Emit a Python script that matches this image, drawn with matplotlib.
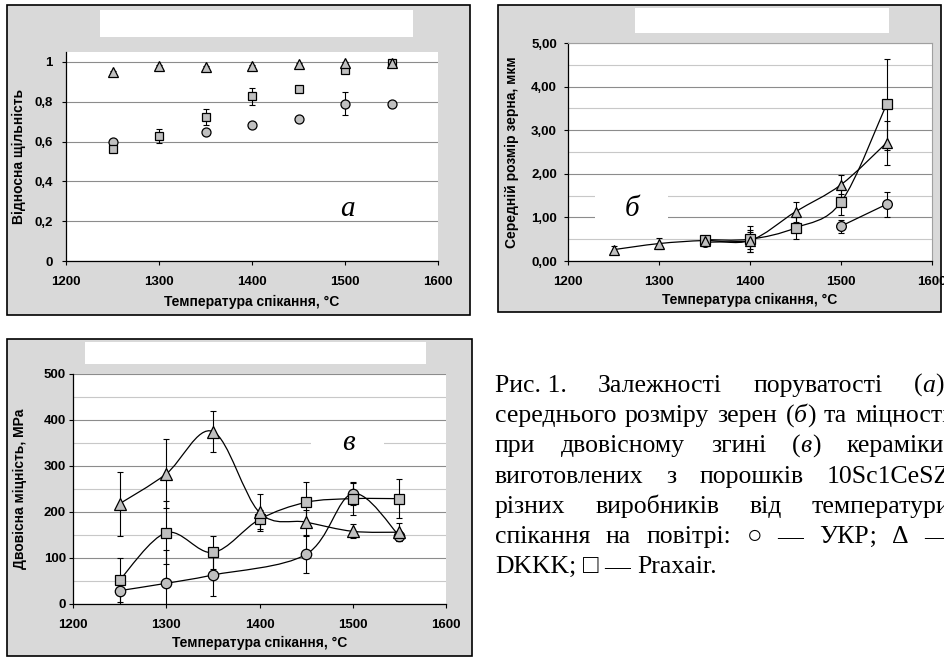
import numpy as np
import matplotlib
matplotlib.use('Agg')
import matplotlib.pyplot as plt
from matplotlib.patches import Rectangle, PathPatch
from matplotlib.path import Path

W, H = 944, 657
plt.rcParams['font.family'] = ['Liberation Sans', 'DejaVu Sans']
SERIF = ['Liberation Serif', 'DejaVu Serif']
nan = np.nan

# --- data -------------------------------------------------------------
temps = [1250, 1300, 1350, 1400, 1450, 1500, 1550]

# (a) relative density
dens_ukr = [0.597, nan, 0.648, 0.682, 0.714, 0.789, 0.789]
dens_ukr_err = [0.01, nan, 0.01, 0.01, 0.01, 0.058, 0.01]
dens_dkkk = [0.950, 0.980, 0.975, 0.978, 0.992, 0.997, 0.995]
dens_dkkk_err = [0.005, 0.005, 0.005, 0.005, 0.005, 0.005, 0.005]
dens_prx = [0.563, 0.630, 0.725, 0.828, 0.865, 0.958, 0.993]
dens_prx_err = [0.015, 0.035, 0.04, 0.042, 0.01, 0.01, 0.01]

# (б) mean grain size, um
grain_ukr = [nan, nan, 0.43, 0.45, nan, 0.80, 1.30]
grain_ukr_err = [nan, nan, 0.05, 0.25, nan, 0.15, 0.29]
grain_dkkk = [0.26, 0.40, 0.47, 0.47, 1.13, 1.75, 2.71]
grain_dkkk_err = [0.08, 0.13, 0.05, 0.2, 0.23, 0.22, 0.5]
grain_prx = [nan, nan, 0.49, 0.50, 0.76, 1.35, 3.59]
grain_prx_err = [nan, nan, 0.05, 0.3, 0.25, 0.3, 1.05]

# (в) biaxial strength, MPa
str_ukr = [29, 45, 63, nan, 108, 240, 148]
str_ukr_err = [30, 72, 45, nan, 40, 25, 10]
str_dkkk = [218, 283, 375, 199, 178, 158, 156]
str_dkkk_err = [70, 75, 45, 40, 27, 15, 20]
str_prx = [52, 155, 112, 184, 221, 229, 229]
str_prx_err = [48, 68, 35, 20, 45, 35, 42]

xticks = [1200, 1300, 1400, 1500, 1600]
a_yticks = [0, 0.2, 0.4, 0.6, 0.8, 1.0]
a_yticklabels = ['0', '0,2', '0,4', '0,6', '0,8', '1']
b_yticks = [0, 1, 2, 3, 4, 5]
b_yticklabels = ['0,00', '1,00', '2,00', '3,00', '4,00', '5,00']
c_yticks = [0, 100, 200, 300, 400, 500]
c_yticklabels = ['0', '100', '200', '300', '400', '500']

xlabel = 'Температура спікання, °С'
caption = [
    'Рис.\u00a01. Залежності поруватості (*а*),',
    'середнього розміру зерен (*б*) та міцності',
    'при двовісному згині (*в*) кераміки,',
    'виготовлених з порошків 10Sc1CeSZ',
    'різних виробників від температури',
    'спікання на повітрі: ○ — УКР; Δ —',
    'DKKK; □ — Praxair.',
]

GREY = '#d9d9d9'
MFC = '#c0c0c0'


def px_rect(fig, l, t, r, b, **kw):
    fig.add_artist(Rectangle((l / W, 1 - b / H), (r - l) / W, (b - t) / H,
                             transform=fig.transFigure, **kw))


def px_axes(fig, l, t, r, b):
    return fig.add_axes([l / W, 1 - b / H, (r - l) / W, (b - t) / H])


def smooth_line(ax, x, y):
    # Excel-like smoothed line (Catmull-Rom as cubic Bezier)
    pts = np.column_stack([x, y])
    n = len(pts)
    if n < 2:
        return
    verts = [pts[0]]
    codes = [Path.MOVETO]
    for i in range(n - 1):
        p0 = pts[i - 1] if i > 0 else pts[i]
        p1, p2 = pts[i], pts[i + 1]
        p3 = pts[i + 2] if i + 2 < n else pts[i + 1]
        verts += [p1 + (p2 - p0) / 6, p2 - (p3 - p1) / 6, p2]
        codes += [Path.CURVE4] * 3
    ax.add_patch(PathPatch(Path(verts, codes), fill=False, ec='black',
                           lw=0.9, zorder=2))


def series(ax, y, err, marker, ms, line=None):
    x = np.array(temps, float)
    y = np.array(y, float)
    err = np.array(err, float)
    ok = ~np.isnan(y)
    if line == 'connect':
        smooth_line(ax, x[ok], y[ok])
    elif line == 'split':
        start = None
        for i in range(len(y) + 1):
            if i < len(y) and ok[i]:
                if start is None:
                    start = i
            elif start is not None:
                smooth_line(ax, x[start:i], y[start:i])
                start = None
    ax.errorbar(x[ok], y[ok], yerr=err[ok], fmt='none', ecolor='black',
                elinewidth=0.8, capsize=2.5, capthick=0.8, zorder=3)
    ax.plot(x[ok], y[ok], ls='none', marker=marker, ms=ms, mfc=MFC,
            mec='black', mew=0.9, zorder=4)


def style(ax, box, yticks, ylabels, ymax, minor, ylabel, ylab_x, xlab_y,
          ypad, right_spine=False):
    l, t, r, b = box
    ax.set_xlim(1200, 1600)
    ax.set_ylim(0, ymax)
    ax.set_xticks(xticks)
    ax.set_xticklabels([str(v) for v in xticks])
    ax.set_yticks(yticks)
    ax.set_yticklabels(ylabels)
    if minor is not None:
        ax.set_yticks(minor, minor=True)
        ax.grid(True, which='minor', axis='y', color='#c8c8c8', lw=0.8)
    ax.grid(True, which='major', axis='y', color='#8c8c8c', lw=0.8)
    ax.set_axisbelow(True)
    ax.tick_params(which='minor', left=False)
    ax.tick_params(axis='both', which='major', direction='out', length=3,
                   width=0.8, labelsize=9.5)
    ax.tick_params(axis='x', pad=8)
    ax.tick_params(axis='y', pad=ypad)
    for lab in ax.get_xticklabels() + ax.get_yticklabels():
        lab.set_fontweight('bold')
    for s in ('top', 'right'):
        ax.spines[s].set_visible(right_spine)
        ax.spines[s].set_color('#a0a0a0')
        ax.spines[s].set_linewidth(0.8)
    for s in ('left', 'bottom'):
        ax.spines[s].set_color('black')
        ax.spines[s].set_linewidth(0.9)
    ax.set_ylabel(ylabel, fontsize=10, fontweight='bold')
    ax.yaxis.set_label_coords((ylab_x - l) / (r - l), 0.5)
    ax.yaxis.label.set_va('center')
    ax.set_xlabel(xlabel, fontsize=10, fontweight='bold')
    ax.xaxis.set_label_coords(0.5, -(xlab_y - b) / (b - t))
    ax.xaxis.label.set_va('center')


def panel_label(ax, box, text, cx, cy, wbox=None):
    # italic panel letter, optionally on a white patch hiding grid lines
    l, t, r, b = box
    if wbox is not None:
        x0, y0, x1, y1 = wbox
        ax.add_patch(Rectangle(((x0 - l) / (r - l), (b - y1) / (b - t)),
                               (x1 - x0) / (r - l), (y1 - y0) / (b - t),
                               transform=ax.transAxes, fc='white', ec='none',
                               zorder=1))
    ax.text((cx - l) / (r - l), (b - cy) / (b - t), text,
            transform=ax.transAxes, family=SERIF, style='italic',
            fontsize=21, ha='center', va='center', zorder=5)


def caption_line(fig, text, y_px, left, right, justify, size):
    r = fig.canvas.get_renderer()
    words = []
    for w in text.split(' '):
        pcs = []
        for k, s in enumerate(w.split('*')):
            if not s:
                continue
            t = fig.text(0, 1 - y_px / H, s, fontsize=size, family=SERIF,
                         style='italic' if k % 2 else 'normal',
                         va='baseline', ha='left')
            pcs.append((t, t.get_window_extent(r).width))
        words.append(pcs)
    total = sum(wd for pcs in words for _, wd in pcs)
    if justify and len(words) > 1:
        gap = (right - left - total) / (len(words) - 1)
    else:
        gap = size * 0.25 * 100 / 72
    x = left
    for pcs in words:
        for t, wd in pcs:
            t.set_x(x / W)
            x += wd
        x += gap


fig = plt.figure(figsize=(W / 100, H / 100), dpi=100)
fig.patch.set_facecolor('white')

# panel backgrounds and empty legend boxes
px_rect(fig, 7, 5, 470, 315, fc=GREY, ec='black', lw=1.2, zorder=-2)
px_rect(fig, 498, 5, 941, 312, fc=GREY, ec='black', lw=1.2, zorder=-2)
px_rect(fig, 7, 339, 472, 656, fc=GREY, ec='black', lw=1.2, zorder=-2)
px_rect(fig, 100, 10, 413, 37, fc='white', ec='none', zorder=-1)
px_rect(fig, 635, 8, 889, 33, fc='white', ec='none', zorder=-1)
px_rect(fig, 85, 342, 426, 364, fc='white', ec='none', zorder=-1)

# (a)
box_a = (66, 52, 438, 261)
ax1 = px_axes(fig, *box_a)
series(ax1, dens_ukr, dens_ukr_err, 'o', 6.5)
series(ax1, dens_prx, dens_prx_err, 's', 6)
series(ax1, dens_dkkk, dens_dkkk_err, '^', 6.5)
style(ax1, box_a, a_yticks, a_yticklabels, 1.05, None, 'Відносна щільність',
      19, 302, 6.5)
panel_label(ax1, box_a, 'а', 347, 209)

# (б)
box_b = (568, 43, 932, 261)
ax2 = px_axes(fig, *box_b)
series(ax2, grain_ukr, grain_ukr_err, 'o', 7, 'split')
series(ax2, grain_prx, grain_prx_err, 's', 7, 'connect')
series(ax2, grain_dkkk, grain_dkkk_err, '^', 7.5, 'connect')
style(ax2, box_b, b_yticks, b_yticklabels, 5, np.arange(0.5, 5, 1.0),
      'Середній розмір зерна, мкм', 512, 300, 5, right_spine=True)
panel_label(ax2, box_b, 'б', 632, 209, (595, 185, 668, 228))

# (в)
box_c = (73, 374, 446, 604)
ax3 = px_axes(fig, *box_c)
series(ax3, str_ukr, str_ukr_err, 'o', 7.5, 'connect')
series(ax3, str_prx, str_prx_err, 's', 7.5, 'connect')
series(ax3, str_dkkk, str_dkkk_err, '^', 8, 'connect')
style(ax3, box_c, c_yticks, c_yticklabels, 500, np.arange(50, 500, 100),
      'Двовісна міцність, МРа', 20, 643, 2)
panel_label(ax3, box_c, 'в', 348, 443, (311, 425, 384, 462))

# caption
for i, line in enumerate(caption):
    caption_line(fig, line, 392 + 30.2 * i, 495, 950,
                 i < len(caption) - 1, 18.5)

fig.savefig('out.png', dpi=100, facecolor='white')
